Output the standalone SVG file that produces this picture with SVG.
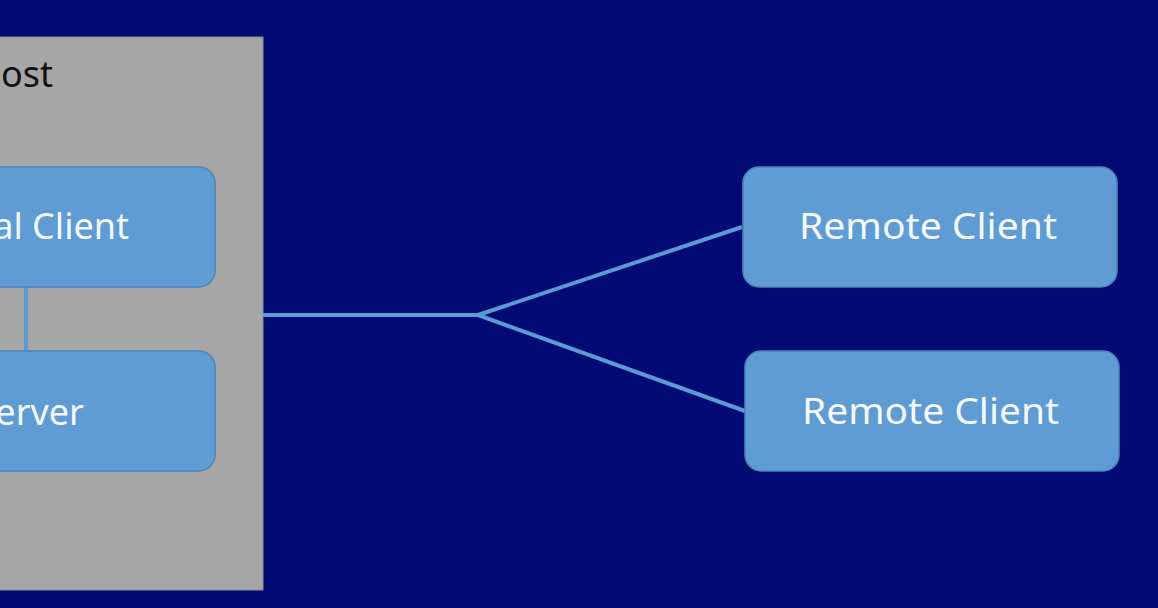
<svg xmlns="http://www.w3.org/2000/svg" width="1158" height="608" viewBox="0 0 1158 608">
  <style>
    .box { fill: #5e9cd3; stroke: #4c84bb; stroke-width: 1.5; }
    .lbl { font-family: "Noto Sans", "Open Sans", sans-serif; font-size: 36px; fill: #f4f8ff; }
    .conn { stroke: #5b9bd5; stroke-width: 4; fill: none; stroke-linejoin: round; }
  </style>
  <rect x="0" y="0" width="1158" height="608" fill="#020a74"/>
  <g id="host">
    <rect x="-10" y="37" width="273" height="553" fill="#a6a6a6" stroke="#8e8e8e" stroke-width="1"/>
    <text x="53" y="87" text-anchor="end" font-family="Noto Sans, Open Sans, sans-serif" font-size="36" fill="#111111">ost</text>
  </g>
  <g id="connectors">
    <line class="conn" x1="26" y1="287" x2="26" y2="351"/>
    <polyline class="conn" points="263,315 478,315 742,227"/>
    <line class="conn" x1="478" y1="315" x2="745" y2="411"/>
  </g>
  <g id="local-client">
    <rect class="box" x="-30" y="167" width="245" height="120" rx="16"/>
    <text class="lbl" x="129" y="239" text-anchor="end">al Client</text>
  </g>
  <g id="server">
    <rect class="box" x="-30" y="351" width="245" height="120" rx="16"/>
    <text class="lbl" x="84" y="425" text-anchor="end">erver</text>
  </g>
  <g id="remote-client-1">
    <rect class="box" x="743" y="167" width="374" height="120" rx="16"/>
    <text class="lbl" x="799" y="239" textLength="258" lengthAdjust="spacingAndGlyphs">Remote Client</text>
  </g>
  <g id="remote-client-2">
    <rect class="box" x="745" y="351" width="374" height="120" rx="16"/>
    <text class="lbl" x="802" y="424" textLength="257" lengthAdjust="spacingAndGlyphs">Remote Client</text>
  </g>
</svg>
